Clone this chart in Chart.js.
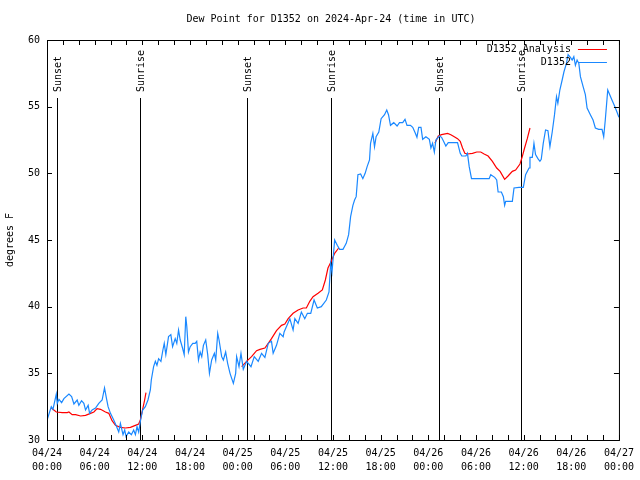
<!DOCTYPE html>
<html><head><meta charset="utf-8">
<script src="https://cdn.jsdelivr.net/npm/chart.js@4.4.1/dist/chart.umd.min.js"></script>
<style>html,body{margin:0;padding:0;background:#fff;}</style>
</head><body>
<canvas id="c" width="640" height="480"></canvas>
<script>
// ---------- data ----------
const chartTitle = "Dew Point for D1352 on 2024-Apr-24 (time in UTC)";
const yAxisTitle = "degrees F";
const xTickLabels = [["04/24","00:00"],["04/24","06:00"],["04/24","12:00"],["04/24","18:00"],
  ["04/25","00:00"],["04/25","06:00"],["04/25","12:00"],["04/25","18:00"],
  ["04/26","00:00"],["04/26","06:00"],["04/26","12:00"],["04/26","18:00"],["04/27","00:00"]];
const yTickValues = [30,35,40,45,50,55,60];
const seriesNames = ["D1352 Analysis","D1352"];

// hours since 2024-04-24 00:00 UTC
const obsHours = [0.04,0.54,0.75,1.17,1.29,1.51,1.84,2.13,2.76,3.10,
 3.39,3.80,4.01,4.35,4.64,4.85,5.18,5.36,5.68,6.11,
 6.52,6.94,7.24,7.49,7.69,7.99,8.40,8.69,9.03,9.24,
 9.57,9.78,9.95,10.29,10.62,10.91,11.13,11.33,11.54,11.75,
 12.04,12.38,12.71,13.01,13.13,13.42,13.64,13.84,14.05,14.34,
 14.59,14.76,14.96,15.30,15.59,15.81,16.14,16.34,16.56,16.77,
 17.06,17.27,17.47,17.60,17.81,18.03,18.35,18.65,18.85,19.07,
 19.28,19.48,19.69,19.98,20.23,20.45,20.73,21.07,21.24,21.49,
 21.66,21.99,22.20,22.49,22.74,23.04,23.46,23.75,23.87,24.17,
 24.42,24.71,25.13,25.68,26.09,26.59,27.01,27.43,27.85,28.26,
 28.47,28.89,29.31,29.73,29.85,30.57,30.98,31.20,31.61,32.02,
 32.45,32.78,33.20,33.62,34.03,34.53,35.16,35.50,35.71,35.88,
 36.21,36.54,36.84,37.26,37.67,37.97,38.22,38.51,38.72,38.92,
 39.14,39.48,39.76,40.05,40.30,40.60,40.73,41.02,41.23,41.43,
 41.77,42.06,42.49,42.77,42.99,43.24,43.65,44.07,44.37,44.78,
 45.07,45.32,45.75,46.04,46.37,46.57,46.79,47.08,47.29,47.70,
 48.13,48.33,48.54,48.76,48.96,49.39,49.67,49.92,50.21,50.51,
 51.68,52.02,52.22,52.72,52.93,53.15,53.44,55.66,55.86,56.36,
 56.61,56.79,57.20,57.45,57.61,57.74,58.58,58.79,59.42,59.96,
 60.25,60.68,60.80,61.09,61.30,61.50,61.80,62.05,62.22,62.47,
 62.76,63.06,63.31,63.60,63.89,64.14,64.31,64.56,64.85,65.07,
 65.39,65.60,65.89,66.11,66.32,66.52,66.73,66.95,67.15,67.49,
 67.77,67.99,68.40,68.74,69.03,69.45,69.87,70.08,70.28,70.59,
 70.84,71.12,71.41,71.75,72.0];
const obsDewPoint = [31.55,32.5,32.3,33.45,32.75,33.05,32.8,33.1,33.45,33.25,
 32.7,33.0,32.6,32.95,32.75,32.25,32.6,32.0,32.25,32.4,
 32.75,33.0,33.9,33.1,32.5,32.0,31.5,31.1,30.6,31.25,
 30.4,30.75,30.25,30.6,30.4,30.75,30.4,31.0,30.6,31.4,
 32.25,32.5,33.0,33.75,34.5,35.5,35.9,35.6,36.1,35.9,
 36.75,37.25,36.4,37.75,37.9,37.0,37.6,37.25,38.25,37.5,
 36.9,36.4,39.25,38.5,36.6,37.0,37.25,37.25,37.4,36.0,
 36.6,36.25,37.1,37.5,36.4,35.0,36.0,36.5,36.0,38.0,
 37.5,36.25,36.0,36.6,35.75,35.0,34.25,35.0,36.25,35.5,
 36.5,35.3,35.9,35.5,36.25,35.9,36.5,36.2,37.25,37.4,
 36.5,37.1,38.0,37.75,38.1,39.1,38.25,39.1,38.75,39.6,
 39.1,39.5,39.5,40.5,39.9,40.0,40.5,41.1,43.25,42.6,
 45.0,44.6,44.3,44.3,44.75,45.4,46.75,47.6,48.0,48.25,
 49.9,49.95,49.6,50.0,50.5,51.0,52.25,53.0,52.0,52.75,
 53.1,54.1,54.4,54.75,54.4,53.6,53.8,53.55,53.8,53.8,
 54.05,53.6,53.6,53.45,53.0,52.7,53.45,53.45,52.55,52.75,
 52.55,51.9,52.25,51.6,52.5,52.8,52.7,52.4,52.05,52.3,
 52.3,51.5,51.3,51.3,51.5,50.5,49.6,49.6,49.9,49.7,
 49.5,48.6,48.6,48.25,47.6,47.9,47.9,48.9,48.95,48.95,
 49.9,50.4,51.2,51.2,52.25,51.4,51.1,50.9,51.05,52.25,
 53.25,53.2,52.0,53.1,54.4,55.75,55.25,56.25,57.0,57.6,
 58.25,58.9,58.7,58.5,58.75,58.1,58.5,58.25,57.25,56.5,
 55.9,54.9,54.4,54.0,53.4,53.3,53.3,52.75,54.0,56.25,
 55.9,55.5,55.1,54.6,54.2];

const anaHours = [0.54,1.17,1.92,2.55,2.76,3.17,3.60,4.23,4.85,5.48,
 5.90,6.31,6.74,7.36,7.78,8.19,8.62,9.24,9.87,10.50,
 11.13,11.54,11.75,12.04,12.29,12.46,
 18.0,
 24.50,25.13,25.75,26.38,26.81,27.43,27.85,28.26,28.89,29.52,
 29.94,30.36,30.98,31.61,32.24,32.65,33.08,33.49,34.12,34.66,
 35.04,35.37,35.79,36.21,36.72,
 42.0,
 48.83,49.26,49.67,50.43,50.84,51.27,51.68,52.02,52.31,52.60,
 52.93,53.56,54.10,54.60,55.03,55.53,56.07,56.61,57.04,57.61,
 58.04,58.58,58.99,59.54,59.83,60.12,60.46,60.80];
const anaDewPoint = [32.4,32.1,32.05,32.05,32.1,31.9,31.9,31.8,31.85,32.0,
 32.1,32.35,32.3,32.1,32.0,31.45,31.1,30.95,30.9,30.95,
 31.1,31.2,31.5,32.3,33.0,33.55,
 null,
 35.5,35.9,36.25,36.7,36.8,36.9,37.25,37.6,38.2,38.6,
 38.7,39.1,39.5,39.75,39.9,39.9,40.4,40.75,41.0,41.25,
 42.0,42.9,43.4,44.0,44.4,
 null,
 52.25,52.8,52.9,53.0,52.9,52.75,52.6,52.4,51.9,51.5,
 51.45,51.5,51.6,51.6,51.45,51.3,50.9,50.4,50.15,49.55,
 49.8,50.15,50.25,50.7,51.25,51.9,52.6,53.4];

const sunEventHours = [1.22, 11.67, 25.2, 35.72, 49.3, 59.68];
const sunEventLabels = ["Sunset","Sunrise","Sunset","Sunrise","Sunset","Sunrise"];

// ---------- chart ----------
const FONT = "DejaVu Sans Mono";
const toPoints = (xs, ys) => xs.map((x, i) => ({x: x, y: ys[i]}));

const decorPlugin = {
  id: 'decor',
  beforeDatasetsDraw(chart) {
    const {ctx, chartArea: a, scales: {x}} = chart;
    ctx.save();
    ctx.strokeStyle = '#000';
    ctx.lineWidth = 1;
    ctx.fillStyle = '#000';
    ctx.font = '10px "' + FONT + '"';
    sunEventHours.forEach((h, i) => {
      const px = Math.round(x.getPixelForValue(h)) + 0.5;
      ctx.beginPath();
      ctx.moveTo(px, a.top + 58);
      ctx.lineTo(px, a.bottom);
      ctx.stroke();
      ctx.save();
      ctx.translate(px + 1, a.top + 52);
      ctx.rotate(-Math.PI / 2);
      ctx.textAlign = 'left';
      ctx.textBaseline = 'middle';
      ctx.fillText(sunEventLabels[i], 0, 0);
      ctx.restore();
    });
    ctx.restore();
  },
  afterDraw(chart) {
    const {ctx, chartArea: a, scales: {x, y}} = chart;
    ctx.save();
    ctx.strokeStyle = '#000';
    ctx.lineWidth = 1;
    // frame
    ctx.strokeRect(a.left + 0.5, a.top + 0.5, a.right - a.left, a.bottom - a.top);
    // x ticks every 2 hours, inward on top and bottom
    ctx.beginPath();
    for (let h = 0; h <= 72; h += 2) {
      const px = Math.round(x.getPixelForValue(h)) + 0.5;
      ctx.moveTo(px, a.bottom); ctx.lineTo(px, a.bottom - 5);
      ctx.moveTo(px, a.top); ctx.lineTo(px, a.top + 5);
    }
    yTickValues.forEach(v => {
      const py = Math.round(y.getPixelForValue(v)) + 0.5;
      ctx.moveTo(a.left, py); ctx.lineTo(a.left + 5, py);
      ctx.moveTo(a.right, py); ctx.lineTo(a.right - 5, py);
    });
    ctx.stroke();
    // title
    ctx.fillStyle = '#000';
    ctx.font = '10px "' + FONT + '"';
    ctx.textAlign = 'center';
    ctx.textBaseline = 'middle';
    ctx.fillText(chartTitle, (a.left + a.right) / 2 - 2, 19);
    // y axis title
    ctx.save();
    ctx.translate(10, (a.top + a.bottom) / 2);
    ctx.rotate(-Math.PI / 2);
    ctx.fillText(yAxisTitle, 0, 0);
    ctx.restore();
    // legend
    chart.data.datasets.forEach((ds, i) => {
      const ly = a.top + 9 + i * 13;
      ctx.textAlign = 'right';
      ctx.fillStyle = '#000';
      ctx.fillText(ds.label, a.right - 48, ly);
      ctx.strokeStyle = ds.borderColor;
      ctx.beginPath();
      ctx.moveTo(a.right - 41, ly + 0.5);
      ctx.lineTo(a.right - 12, ly + 0.5);
      ctx.stroke();
    });
    ctx.restore();
  }
};

new Chart(document.getElementById('c'), {
  type: 'line',
  data: {
    datasets: [
      { label: seriesNames[0], data: toPoints(anaHours, anaDewPoint),
        borderColor: '#ff0000', borderWidth: 1.2, pointRadius: 0, tension: 0,
        spanGaps: false, fill: false, order: 2 },
      { label: seriesNames[1], data: toPoints(obsHours, obsDewPoint),
        borderColor: '#1a88ff', borderWidth: 1.2, pointRadius: 0, tension: 0,
        spanGaps: false, fill: false, order: 1 }
    ]
  },
  options: {
    responsive: false,
    animation: false,
    devicePixelRatio: 1,
    layout: { padding: { top: 40, right: 18, left: 0, bottom: 0 } },
    plugins: { legend: { display: false }, title: { display: false }, tooltip: { enabled: false } },
    scales: {
      x: {
        type: 'linear', min: 0, max: 72,
        grid: { display: false, drawTicks: false },
        border: { display: false },
        afterFit(s) { s.height = 40; },
        afterBuildTicks(s) { s.ticks = xTickLabels.map((_, i) => ({ value: i * 6 })); },
        ticks: {
          autoSkip: false, maxRotation: 0, minRotation: 0, padding: 6, color: '#000',
          font: { family: FONT, size: 10, lineHeight: 1.4 },
          callback: (v, i) => xTickLabels[i]
        }
      },
      y: {
        min: 30, max: 60,
        grid: { display: false, drawTicks: false },
        border: { display: false },
        afterFit(s) { s.width = 47; },
        afterBuildTicks(s) { s.ticks = yTickValues.map(v => ({ value: v })); },
        ticks: {
          padding: 7, color: '#000',
          font: { family: FONT, size: 10 },
          callback: v => String(v)
        }
      }
    }
  },
  plugins: [decorPlugin]
});
</script>
</body></html>
